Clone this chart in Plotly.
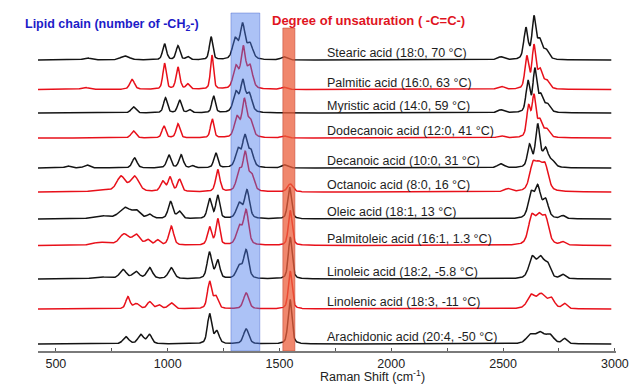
import numpy as np
import plotly.graph_objects as go

# ---- data ----
names = [
    "Stearic acid (18:0, 70 °C)",
    "Palmitic acid (16:0, 63 °C)",
    "Myristic acid (14:0, 59 °C)",
    "Dodecanoic acid (12:0, 41 °C)",
    "Decanoic acid (10:0, 31 °C)",
    "Octanoic acid (8:0, 16 °C)",
    "Oleic acid (18:1, 13 °C)",
    "Palmitoleic acid (16:1, 1.3 °C)",
    "Linoleic acid (18:2, -5.8 °C)",
    "Linolenic acid (18:3, -11 °C)",
    "Arachidonic acid (20:4, -50 °C)",
]
# stacking offsets (arb. units)
offsets = [291, 261.5, 238, 213, 183, 159, 132, 105.5, 72, 42, 7]

# peaks per spectrum: (position cm-1, intensity, FWHM cm-1)
stearic = [(640, 2, 40), (809, 4, 45), (986, 16, 20), (1046, 14, 20), (1090, 3, 20),
           (1194, 23, 18), (1302, 20, 28), (1335, 34, 26), (1368, 15, 30), (1520, 3, 30),
           (2490, 3, 35), (2602, 31, 22), (2638, 41, 20), (2663, 18, 25), (2692, 9, 30)]
palmitic = [(630, 2, 40), (841, 10, 25), (986, 26, 18), (1046, 22, 20), (1090, 5, 20),
            (1198, 34, 16), (1305, 22, 28), (1338, 40, 24), (1368, 22, 28), (1520, 2, 30),
            (2490, 3, 35), (2606, 32, 20), (2638, 42, 20), (2665, 18, 25), (2695, 8, 30)]
myristic = [(847, 6, 25), (990, 15, 20), (1053, 13, 20), (1098, 3, 20), (1205, 17, 18),
            (1305, 20, 28), (1336, 30, 24), (1365, 18, 28), (2490, 3, 35), (2611, 31, 20),
            (2642, 42, 20), (2668, 16, 25), (2698, 8, 30)]
dodecanoic = [(847, 7, 25), (983, 12, 20), (1046, 14, 20), (1199, 19, 18), (1310, 20, 28),
              (1343, 36, 24), (1370, 16, 28), (1520, 2, 30), (2490, 2, 35), (2614, 30, 20),
              (2638, 40, 20), (2664, 16, 25), (2695, 8, 30)]
decanoic = [(554, 2, 30), (639, 3, 30), (852, 10, 25), (1005, 13, 22), (1060, 13, 22),
            (1113, 2, 20), (1215, 15, 20), (1315, 18, 28), (1345, 30, 24), (1372, 16, 28),
            (1523, 3, 30), (2490, 4, 35), (2618, 22, 22), (2655, 42, 24), (2690, 18, 28),
            (2720, 6, 30)]
octanoic = [(700, 2, 80), (791, 15, 45), (852, 15, 45), (978, 10, 25), (1011, 14, 22),
            (1053, 12, 22), (1224, 22, 22), (1320, 20, 28), (1347, 36, 24), (1375, 16, 28),
            (1548, 8, 28), (2521, 3, 35), (2633, 25, 35), (2660, 20, 35), (2688, 24, 35)]
oleic = [(700, 3, 80), (809, 11, 60), (860, 7, 40), (920, 4, 30), (1013, 17, 25),
         (1053, 7, 25), (1187, 20, 22), (1224, 23, 20), (1320, 15, 30), (1355, 28, 26),
         (1545, 32, 20), (2625, 24, 30), (2655, 30, 30), (2690, 18, 30), (2767, 3, 25)]
palmitoleic = [(700, 3, 80), (805, 11, 50), (860, 10, 40), (911, 5, 25), (955, 5, 25),
               (1016, 19, 25), (1187, 18, 22), (1224, 26, 20), (1320, 18, 30), (1351, 34, 26),
               (1548, 35, 20), (2628, 27, 35), (2660, 24, 35), (2690, 25, 35), (2767, 3, 25)]
linoleic = [(700, 2, 80), (800, 9, 35), (858, 7, 35), (919, 11, 30), (1016, 11, 30),
            (1187, 26, 25), (1224, 18, 22), (1320, 12, 30), (1351, 28, 26), (1548, 42, 20),
            (2630, 20, 35), (2668, 20, 40), (2700, 12, 30), (2767, 4, 25)]
linolenic = [(822, 12, 22), (860, 5, 30), (919, 7, 25), (960, 4, 25), (1016, 6, 30),
             (1187, 27, 22), (1215, 12, 25), (1351, 16, 28), (1548, 38, 20),
             (2625, 13, 40), (2670, 14, 45), (2715, 10, 35), (2775, 5, 25)]
arachidonic = [(813, 7, 30), (880, 9, 30), (919, 9, 25), (1187, 30, 22), (1220, 12, 25),
               (1351, 15, 28), (1547, 45, 20), (2620, 8, 40), (2665, 11, 50),
               (2710, 8, 40), (2775, 5, 25)]

spectra = [stearic, palmitic, myristic, dodecanoic, decanoic, octanoic,
           oleic, palmitoleic, linoleic, linolenic, arachidonic]
colors = ["#141414", "#e8101a"] * 6

tick_vals = [500, 1000, 1500, 2000, 2500, 3000]
blue_band = (1283, 1412)
red_band = (1515, 1569)

# ---- build ----
x = np.arange(420, 2986, 2.0)


def profile(peaks):
    y = np.zeros_like(x)
    for c, h, w in peaks:
        g = np.exp(-4 * np.log(2) * ((x - c) / w) ** 2)
        lz = 1.0 / (1.0 + 4 * ((x - c) / w) ** 2)
        y += h * (0.45 * lz + 0.55 * g)
    return y


FONT = "Arial, Liberation Sans, sans-serif"

fig = go.Figure()
for i, (name, pk, off) in enumerate(zip(names, spectra, offsets)):
    fig.add_trace(go.Scatter(x=x, y=profile(pk) + off, mode="lines",
                             line=dict(color=colors[i], width=1.5),
                             hoverinfo="skip", showlegend=False))
    fig.add_annotation(x=1703, y=off + 7, text=name, showarrow=False,
                       xanchor="left", yanchor="middle",
                       font=dict(family=FONT, size=12.5, color="#1e1e1e"))

fig.add_shape(type="rect", x0=blue_band[0], x1=blue_band[1], y0=0, y1=338,
              fillcolor="rgba(70,120,235,0.45)", line=dict(color="rgba(60,90,200,0.5)", width=0.8),
              layer="above")
fig.add_shape(type="rect", x0=red_band[0], x1=red_band[1], y0=0, y1=323,
              fillcolor="rgba(235,95,60,0.75)", line=dict(color="rgba(190,60,40,0.6)", width=0.8),
              layer="above")

fig.add_annotation(xref="paper", yref="paper", x=-0.026, y=0.950,
                   text="Lipid chain (number of -CH<sub>2</sub>-)", showarrow=False,
                   xanchor="left", yanchor="middle",
                   font=dict(family=FONT, size=12.5, color="#1c1cc8", weight="bold"))
fig.add_annotation(x=1457, y=331, text="Degree of unsaturation ( -C=C-)", showarrow=False,
                   xanchor="left", yanchor="middle",
                   font=dict(family=FONT, size=13, color="#e0141e", weight="bold"))
fig.add_annotation(xref="x", yref="paper", x=1918, y=-0.073,
                   text="Raman Shift (cm<sup>-1</sup>)", showarrow=False,
                   xanchor="center", yanchor="middle",
                   font=dict(family=FONT, size=12.5, color="#222"))

fig.update_layout(
    width=640, height=384,
    margin=dict(l=30, r=32, t=0, b=41),
    plot_bgcolor="white", paper_bgcolor="white",
    xaxis=dict(range=[420, 3005], tickvals=tick_vals, showgrid=False, zeroline=False,
               showline=True, linecolor="#7a7a7a", linewidth=1.5,
               ticks="inside", ticklen=3, tickcolor="#555",
               minor=dict(ticks="inside", ticklen=3, dtick=250, tickcolor="#555"),
               tickfont=dict(family=FONT, size=12.5, color="#222")),
    yaxis=dict(range=[0, 343], visible=False),
)
fig.write_html("out.html")
